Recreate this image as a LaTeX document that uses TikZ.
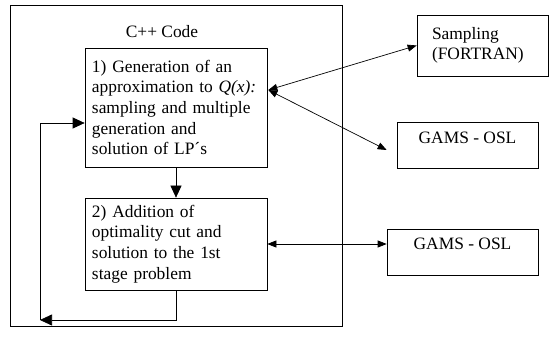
\documentclass[tikz,border=0pt]{standalone}
\usepackage{fontspec}
\setmainfont{Liberation Serif}
\usetikzlibrary{arrows.meta,positioning}
\tikzset{
  txt/.style={font=\fontsize{17.4}{20.6}\selectfont},
  stepbox/.style={txt, draw, line width=0.7pt, align=left, text width=168pt, inner xsep=7pt, minimum height=#1},
  toolbox/.style={txt, draw, line width=0.7pt, minimum width=#1, text height=15pt, text depth=19pt, inner ysep=6pt},
  bigtip/.style={-{Triangle[length=12pt,width=11pt]}},
  smalltip/.style={{Triangle[length=9pt,width=7pt]}-{Triangle[length=9pt,width=7pt]}}
}
\begin{document}
\begin{tikzpicture}[x=1pt,y=-1pt,line width=0.7pt]
\useasboundingbox (0,0) rectangle (550,337);
% C++ part
\node[draw, line width=0.7pt, minimum width=332pt, minimum height=321pt] (cpp) at (176,165.5) {};
\node[txt] (cpptitle) at (162,32) {C++ Code};
\node[stepbox=119pt] (gen) at (176,107.5) {1) Generation of an\\approximation to \textit{Q(x):}\\sampling and multiple\\generation and\\solution of LP´s};
\node[stepbox=92pt] (cut) at (176,244) {2) Addition of\\optimality cut and\\solution to the 1st\\stage problem};
% outside tools
\node[txt, draw, line width=0.7pt, align=left, text width=101pt, inner xsep=15pt, minimum height=61pt] (samp) at (482.5,45.5) {Sampling\\(FORTRAN)};
\node[toolbox=141pt] (gamsA) at (467.5,145) {GAMS - OSL};
\node[toolbox=151pt] (gamsB) at (462.5,252) {GAMS - OSL};
\coordinate (hub) at ([xshift=1pt,yshift=17.5pt]gen.east);
\coordinate (loop) at (40,320);
% arrows
\draw[bigtip] (gen.south) -- (cut.north);
\draw[bigtip] (cut.south) |- (loop);
\draw[bigtip] (loop) |- ([yshift=-15.5pt]gen.west);
\draw[smalltip] (hub) -- (samp.west);
\draw[smalltip] (hub) -- ([xshift=-10pt,yshift=-5pt]gamsA.west);
\draw[smalltip] (cut.east) -- (cut.east -| gamsB.west);
\end{tikzpicture}
\end{document}
